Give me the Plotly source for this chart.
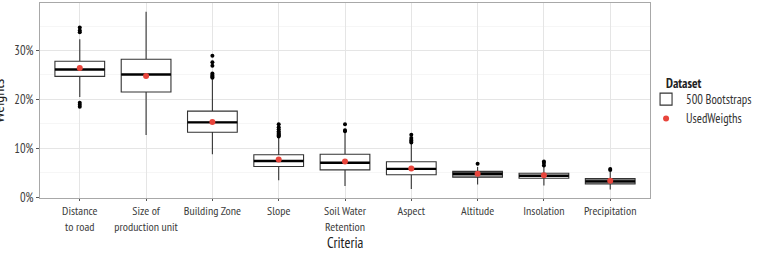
import plotly.graph_objects as go

categories = ["Distance<br>to road", "Size of<br>production unit", "Building Zone", "Slope",
              "Soil Water<br>Retention", "Aspect", "Altitude", "Insolation", "Precipitation"]
lower_whisker = [0.205, 0.127, 0.088, 0.035, 0.023, 0.017, 0.026, 0.024, 0.016]
q1 = [0.247, 0.215, 0.133, 0.063, 0.056, 0.046, 0.041, 0.039, 0.027]
median = [0.261, 0.251, 0.153, 0.074, 0.0705, 0.058, 0.048, 0.044, 0.0325]
q3 = [0.278, 0.282, 0.176, 0.087, 0.088, 0.0725, 0.053, 0.049, 0.038]
upper_whisker = [0.323, 0.379, 0.241, 0.122, 0.134, 0.110, 0.062, 0.064, 0.052]
used_weights = [0.264, 0.248, 0.154, 0.077, 0.073, 0.059, 0.048, 0.045, 0.034]
outliers = [
    [0.347, 0.341, 0.337, 0.193, 0.189, 0.185],
    [],
    [0.289, 0.276, 0.269, 0.253, 0.250, 0.248, 0.246, 0.244],
    [0.149, 0.143, 0.139, 0.135, 0.132, 0.130, 0.128, 0.126, 0.124],
    [0.149, 0.137, 0.135],
    [0.128, 0.121, 0.117, 0.115, 0.112],
    [0.0685],
    [0.073, 0.070, 0.065],
    [0.058, 0.0555],
]
y_ticks = [0, 0.1, 0.2, 0.3]
y_tick_labels = ["0%", "10%", "20%", "30%"]

FONT = "PT Sans Narrow, Archivo Narrow, Roboto Condensed, DejaVu Sans Condensed, sans-serif"
gray_boxes = {"Altitude", "Precipitation"}
BOX_W = 0.75
PLOT_W = 618

fig = go.Figure()
xs = list(range(len(categories)))
for i, cat in enumerate(categories):
    fig.add_trace(go.Box(
        x=[i], q1=[q1[i]], median=[median[i]], q3=[q3[i]],
        lowerfence=[lower_whisker[i]], upperfence=[upper_whisker[i]],
        boxpoints=False, width=BOX_W, whiskerwidth=0,
        fillcolor="#8f8f8f" if cat in gray_boxes else "white",
        line=dict(color="#333333", width=1.1),
        name="500 Bootstraps", legendgroup="boot", showlegend=(i == 0),
        hoverinfo="skip",
    ))

# thick median lines
mx, my = [], []
for i in xs:
    mx += [i - BOX_W / 2, i + BOX_W / 2, None]
    my += [median[i], median[i], None]
fig.add_trace(go.Scatter(x=mx, y=my, mode="lines", line=dict(color="black", width=2.4),
                         showlegend=False, hoverinfo="skip"))

# outliers
ox, oy = [], []
for i, vals in enumerate(outliers):
    for v in vals:
        ox.append(i)
        oy.append(v)
fig.add_trace(go.Scatter(x=ox, y=oy, mode="markers", marker=dict(color="black", size=4),
                         showlegend=False, hoverinfo="skip"))

fig.add_trace(go.Scatter(x=xs, y=used_weights, mode="markers", name="UsedWeigths",
                         marker=dict(color="#e8453c", size=6)))

fig.update_layout(
    width=760, height=256,
    margin=dict(l=40, r=102, t=3, b=58),
    plot_bgcolor="white", paper_bgcolor="white",
    font=dict(family=FONT, size=12.5, color="#3c3c3c"),
    showlegend=True,
    legend=dict(
        x=(654 - 40) / PLOT_W, xanchor="left", y=0.582, yanchor="top",
        font=dict(size=12.5, color="#333"), tracegroupgap=0, itemwidth=30,
        bgcolor="rgba(0,0,0,0)",
    ),
    xaxis=dict(
        range=[-0.6, 8.6], tickmode="array", tickvals=xs, ticktext=categories,
        tickangle=0,
        showgrid=True, gridcolor="#e5e5e5", gridwidth=1,
        ticks="outside", ticklen=2, tickcolor="#555", zeroline=False,
        showline=True, linecolor="#a8a8a8", mirror=True,
        tickfont=dict(size=12, color="#3c3c3c"),
    ),
    yaxis=dict(
        range=[-0.0015, 0.397], tickmode="array", tickvals=y_ticks, ticktext=y_tick_labels,
        showgrid=True, gridcolor="#e5e5e5", gridwidth=1,
        minor=dict(showgrid=True, gridcolor="#f6f6f6", dtick=0.05, tick0=0.05),
        ticks="outside", ticklen=3, tickcolor="#555", zeroline=False,
        showline=True, linecolor="#a8a8a8", mirror=True,
        tickfont=dict(size=12.5, color="#3c3c3c"),
    ),
    annotations=[
        dict(text="Weights", textangle=-90, xref="paper", yref="paper",
             x=-31 / PLOT_W, y=0.5, xanchor="right", yanchor="middle",
             showarrow=False, font=dict(size=16, color="#222")),
        dict(text="Criteria", xref="paper", yref="paper",
             x=0.5, y=(198 - 242) / 195, xanchor="center", yanchor="middle",
             showarrow=False, font=dict(size=14.5, color="#222")),
        dict(text="<b>Dataset</b>", xref="paper", yref="paper",
             x=(672 - 40) / PLOT_W, y=(198 - 83) / 195, xanchor="left", yanchor="middle",
             showarrow=False, font=dict(size=13, color="#222")),
    ],
)

fig.write_html("out.html")
